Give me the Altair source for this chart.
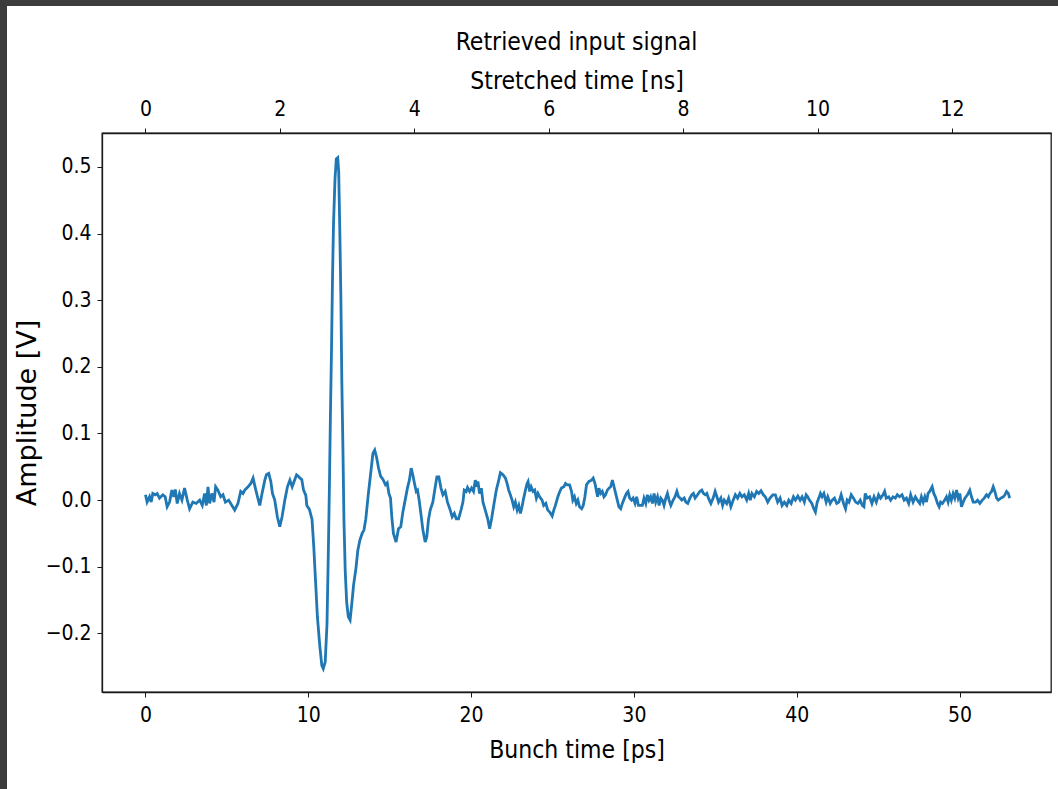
import altair as alt
import pandas as pd

# Bunch time [ps]
t_ps = [
    0.00, 0.10, 0.25, 0.35, 0.45, 0.60, 0.72, 0.86, 1.07, 1.21, 1.33, 1.48, 1.62, 1.74, 1.83, 1.95,
    2.09, 2.24, 2.40, 2.57, 2.71, 2.91, 3.12, 3.33, 3.49, 3.63, 3.74, 3.84, 3.94, 4.08, 4.21, 4.31,
    4.45, 4.62, 4.76, 4.91, 5.11, 5.31, 5.48, 5.68, 5.85, 5.99, 6.10, 6.30, 6.47, 6.61, 6.75, 6.88,
    7.02, 7.16, 7.33, 7.43, 7.57, 7.70, 7.80, 7.94, 8.10, 8.25, 8.39, 8.56, 8.72, 8.87, 9.01, 9.13,
    9.28, 9.42, 9.49, 9.60, 9.71, 9.85, 9.91, 10.07, 10.23, 10.34, 10.45, 10.56, 10.70, 10.83, 10.92, 11.04,
    11.15, 11.23, 11.30, 11.36, 11.43, 11.49, 11.55, 11.64, 11.72, 11.81, 11.87, 11.93, 12.00, 12.06, 12.13, 12.19,
    12.27, 12.36, 12.46, 12.57, 12.68, 12.78, 12.93, 13.04, 13.17, 13.31, 13.42, 13.53, 13.68, 13.85, 13.97, 14.08,
    14.19, 14.31, 14.44, 14.59, 14.74, 14.85, 14.95, 15.05, 15.13, 15.23, 15.39, 15.54, 15.68, 15.81, 15.95, 16.09,
    16.21, 16.32, 16.42, 16.50, 16.63, 16.71, 16.81, 16.93, 17.04, 17.18, 17.28, 17.38, 17.49, 17.65, 17.80, 17.90,
    18.02, 18.15, 18.27, 18.41, 18.55, 18.72, 18.84, 18.97, 19.09, 19.23, 19.38, 19.50, 19.58, 19.70, 19.78, 19.91,
    20.03, 20.15, 20.26, 20.34, 20.42, 20.52, 20.63, 20.73, 20.87, 21.02, 21.14, 21.26, 21.39, 21.55, 21.70, 21.80,
    21.96, 22.11, 22.21, 22.31, 22.41, 22.52, 22.62, 22.72, 22.83, 22.93, 23.03, 23.13, 23.23, 23.34, 23.44, 23.50,
    23.60, 23.69, 23.81, 23.91, 24.01, 24.11, 24.21, 24.36, 24.46, 24.59, 24.71, 24.83, 24.98, 25.08, 25.18, 25.33,
    25.45, 25.55, 25.70, 25.80, 25.90, 26.05, 26.17, 26.25, 26.35, 26.46, 26.56, 26.66, 26.79, 26.89, 26.99, 27.09,
    27.24, 27.40, 27.50, 27.61, 27.69, 27.77, 27.85, 27.96, 28.06, 28.16, 28.26, 28.37, 28.47, 28.57, 28.68, 28.78,
    28.88, 28.98, 29.08, 29.19, 29.29, 29.42, 29.54, 29.64, 29.74, 29.85, 29.95, 30.07, 30.17, 30.28, 30.42, 30.52,
    30.62, 30.73, 30.83, 30.93, 31.03, 31.14, 31.24, 31.34, 31.45, 31.55, 31.65, 31.75, 31.85, 31.96, 32.06, 32.16,
    32.27, 32.41, 32.53, 32.64, 32.74, 32.84, 32.94, 33.09, 33.19, 33.31, 33.44, 33.56, 33.66, 33.76, 33.91, 34.05,
    34.17, 34.27, 34.38, 34.48, 34.58, 34.73, 34.87, 34.99, 35.10, 35.20, 35.34, 35.45, 35.55, 35.70, 35.82, 35.96,
    36.10, 36.23, 36.37, 36.51, 36.64, 36.78, 36.93, 37.05, 37.15, 37.25, 37.40, 37.54, 37.67, 37.81, 37.95, 38.07,
    38.22, 38.36, 38.53, 38.69, 38.83, 38.98, 39.10, 39.24, 39.39, 39.51, 39.66, 39.80, 39.92, 40.07, 40.21, 40.33,
    40.47, 40.58, 40.68, 40.78, 40.93, 41.05, 41.15, 41.26, 41.36, 41.46, 41.56, 41.67, 41.81, 41.91, 42.06, 42.18,
    42.32, 42.46, 42.59, 42.73, 42.88, 43.00, 43.10, 43.21, 43.35, 43.49, 43.62, 43.76, 43.90, 44.03, 44.13, 44.21,
    44.33, 44.48, 44.62, 44.75, 44.89, 45.03, 45.15, 45.30, 45.40, 45.50, 45.65, 45.77, 45.92, 46.06, 46.18, 46.32,
    46.47, 46.60, 46.74, 46.88, 47.00, 47.15, 47.29, 47.41, 47.56, 47.66, 47.77, 47.87, 47.97, 48.07, 48.17, 48.32,
    48.42, 48.52, 48.65, 48.75, 48.84, 48.95, 49.09, 49.20, 49.30, 49.40, 49.50, 49.61, 49.71, 49.82, 49.92, 50.02,
    50.12, 50.23, 50.33, 50.49, 50.63, 50.74, 50.84, 50.99, 51.11, 51.25, 51.40, 51.52, 51.66, 51.77, 51.87, 51.97,
    52.07, 52.17, 52.28, 52.38, 52.54, 52.69, 52.79, 52.89, 53.00, 53.08,
]

# Amplitude [V]
amp_v = [
    0.008, -0.003, 0.005, -0.003, 0.010, 0.008, 0.010, 0.003, 0.008, 0.005, -0.010, -0.003, 0.015, 0.005, 0.016, -0.005,
    0.010, 0.000, 0.018, 0.000, -0.013, -0.003, -0.005, 0.000, -0.008, 0.010, -0.008, 0.020, -0.005, 0.010, -0.003, 0.020,
    0.015, 0.005, 0.008, -0.003, 0.000, -0.008, -0.015, -0.005, 0.013, 0.010, 0.015, 0.020, 0.025, 0.033, 0.018, 0.005,
    -0.008, 0.010, 0.030, 0.038, 0.040, 0.028, 0.010, 0.000, -0.025, -0.040, -0.025, 0.000, 0.020, 0.030, 0.020, 0.028,
    0.038, 0.035, 0.033, 0.031, 0.015, 0.007, -0.008, -0.014, -0.029, -0.071, -0.123, -0.175, -0.217, -0.248, -0.253, -0.243,
    -0.186, -0.081, 0.023, 0.127, 0.231, 0.336, 0.414, 0.481, 0.512, 0.514, 0.492, 0.414, 0.309, 0.179, 0.075, -0.029,
    -0.107, -0.154, -0.175, -0.180, -0.154, -0.128, -0.102, -0.076, -0.060, -0.050, -0.045, -0.029, 0.007, 0.044, 0.070, 0.075,
    0.065, 0.049, 0.036, 0.031, 0.023, 0.026, 0.010, 0.003, -0.025, -0.050, -0.063, -0.043, -0.040, -0.018, 0.000, 0.018,
    0.030, 0.048, 0.038, 0.028, 0.013, 0.015, 0.000, -0.023, -0.045, -0.063, -0.055, -0.030, -0.015, -0.003, 0.020, 0.035,
    0.035, 0.018, 0.008, 0.013, -0.003, -0.015, -0.025, -0.020, -0.028, -0.028, -0.015, -0.003, 0.015, 0.013, 0.019, 0.013,
    0.018, 0.013, 0.030, 0.020, 0.028, 0.010, 0.018, -0.003, -0.015, -0.028, -0.043, -0.028, -0.008, 0.015, 0.030, 0.041,
    0.038, 0.033, 0.025, 0.015, 0.008, 0.000, -0.010, -0.003, -0.015, -0.008, -0.020, -0.010, 0.003, 0.015, 0.025, 0.028,
    0.013, 0.020, 0.013, 0.015, 0.003, 0.010, 0.005, 0.000, -0.008, -0.005, -0.015, -0.018, -0.024, -0.015, -0.008, 0.005,
    0.013, 0.018, 0.020, 0.025, 0.023, 0.023, 0.013, 0.000, 0.005, -0.005, 0.000, -0.010, -0.013, -0.008, 0.005, 0.023,
    0.028, 0.030, 0.033, 0.025, 0.015, 0.005, 0.018, 0.010, 0.013, 0.005, 0.008, 0.015, 0.018, 0.020, 0.030, 0.020,
    0.010, 0.000, -0.010, -0.013, -0.005, 0.003, 0.010, 0.013, 0.003, 0.000, 0.003, -0.005, 0.005, -0.008, -0.008, -0.008,
    0.003, -0.005, 0.008, 0.000, 0.005, -0.005, 0.010, -0.003, 0.005, -0.008, 0.003, 0.000, -0.008, 0.003, 0.010, 0.000,
    -0.008, 0.000, 0.005, 0.013, 0.005, 0.003, 0.000, 0.003, -0.003, -0.005, 0.003, 0.008, 0.010, 0.003, 0.008, 0.013,
    0.015, 0.010, 0.008, 0.010, 0.003, -0.005, 0.003, 0.013, 0.005, -0.003, 0.003, -0.008, 0.000, -0.005, 0.003, -0.010,
    0.000, 0.008, 0.003, 0.010, 0.005, 0.008, 0.000, 0.010, 0.000, 0.010, 0.005, 0.013, 0.010, 0.014, 0.008, 0.005,
    -0.003, 0.003, 0.008, 0.008, -0.003, 0.003, -0.008, -0.003, -0.008, 0.000, -0.005, 0.005, 0.000, 0.006, 0.000, 0.005,
    -0.003, 0.008, 0.005, 0.000, -0.005, -0.013, -0.018, -0.003, 0.003, 0.010, 0.005, 0.010, -0.003, 0.005, -0.005, 0.000,
    0.003, -0.005, -0.003, 0.008, -0.005, -0.013, 0.000, -0.003, 0.008, 0.003, -0.003, -0.005, 0.000, -0.008, -0.010, 0.010,
    0.003, 0.005, -0.005, 0.005, -0.003, 0.008, 0.003, 0.008, 0.013, 0.003, 0.005, 0.000, 0.005, 0.003, 0.008, 0.005,
    0.008, 0.000, 0.003, -0.005, 0.008, -0.003, 0.005, 0.000, -0.005, 0.005, -0.003, 0.005, -0.003, 0.010, 0.013, 0.020,
    0.010, 0.005, -0.005, -0.010, -0.003, -0.005, 0.000, 0.005, -0.003, 0.008, 0.000, 0.010, 0.003, 0.015, 0.003, 0.010,
    -0.010, -0.003, 0.003, 0.008, 0.015, 0.005, -0.003, -0.003, 0.000, -0.005, 0.000, 0.003, 0.008, 0.005, 0.010, 0.013,
    0.020, 0.013, 0.003, 0.000, 0.003, 0.005, 0.008, 0.013, 0.010, 0.003,
]

x_ticks_ps = [0, 10, 20, 30, 40, 50]
x_ticks_ns = [0, 2, 4, 6, 8, 10, 12]
y_ticks = [-0.2, -0.1, 0.0, 0.1, 0.2, 0.3, 0.4, 0.5]
PS_PER_NS = 4.128
chart_title = ["Retrieved input signal"]

n = min(len(t_ps), len(amp_v))
df = pd.DataFrame({"t": t_ps[:n], "amp": amp_v[:n]})
df["ns"] = df["t"] / PS_PER_NS

FONT_H = "DejaVu Sans Condensed, DejaVu Sans"
FONT_V = "DejaVu Sans"
PS_DOMAIN = [-2.67, 55.62]
NS_DOMAIN = [PS_DOMAIN[0] / PS_PER_NS, PS_DOMAIN[1] / PS_PER_NS]
Y_DOMAIN = [-0.288, 0.551]
INK = "#1a1a1a"

line = alt.Chart(df).mark_line(color="#1f77b4", strokeWidth=2.8, clip=True).encode(
    x=alt.X(
        "t:Q",
        scale=alt.Scale(domain=PS_DOMAIN, nice=False, zero=False),
        axis=alt.Axis(
            values=x_ticks_ps, title="Bunch time [ps]", format="d", orient="bottom",
            labelPadding=7, titlePadding=13,
        ),
    ),
    y=alt.Y(
        "amp:Q",
        scale=alt.Scale(domain=Y_DOMAIN, nice=False, zero=False),
        axis=alt.Axis(
            values=y_ticks, title="Amplitude [V]", orient="left",
            labelExpr="replace(format(datum.value, '.1f'), '-', '\u2212')",
            labelPadding=6, titlePadding=4, titleFont=FONT_V, titleFontSize=27,
        ),
    ),
)

top = alt.Chart(df).mark_line(opacity=0).encode(
    x=alt.X(
        "ns:Q",
        scale=alt.Scale(domain=NS_DOMAIN, nice=False, zero=False),
        axis=alt.Axis(
            values=x_ticks_ns, title="Stretched time [ns]", format="d", orient="top",
            labelPadding=9, titlePadding=5,
        ),
    ),
    y=alt.Y("amp:Q", scale=alt.Scale(domain=Y_DOMAIN, nice=False, zero=False), axis=None),
)

title_df = pd.DataFrame({"label": chart_title})
title_mark = alt.Chart(title_df).mark_text(
    font=FONT_H, fontSize=24.5, color="black", align="center", baseline="alphabetic"
).encode(text="label:N", x=alt.value(474.5), y=alt.value(-83))

deco = pd.DataFrame({"k": [0]})
left_strip = alt.Chart(deco).mark_rect(color="#3c3c3c").encode(
    x=alt.value(-102), x2=alt.value(-95), y=alt.value(-133), y2=alt.value(656)
)
top_strip = alt.Chart(deco).mark_rect(color="#3c3c3c").encode(
    x=alt.value(-102), x2=alt.value(956), y=alt.value(-133), y2=alt.value(-127)
)

chart = (
    alt.layer(line, top, title_mark, left_strip, top_strip)
    .resolve_scale(x="independent", y="independent")
    .properties(
        width=949,
        height=559,
        autosize=alt.AutoSizeParams(type="none"),
        padding={"left": 102, "top": 133, "right": 7, "bottom": 97},
        background="white",
    )
    .configure_view(stroke=INK, strokeWidth=1.3)
    .configure_axis(
        grid=False,
        domainColor=INK,
        domainWidth=1.3,
        tickColor=INK,
        tickSize=5,
        tickWidth=1,
        labelFont=FONT_H,
        labelFontSize=21,
        labelColor="black",
        titleFont=FONT_H,
        titleFontSize=24.5,
        titleFontWeight="normal",
        titleColor="black",
    )
)

chart.save("out.html", embed_options={"renderer": "svg", "actions": False})
